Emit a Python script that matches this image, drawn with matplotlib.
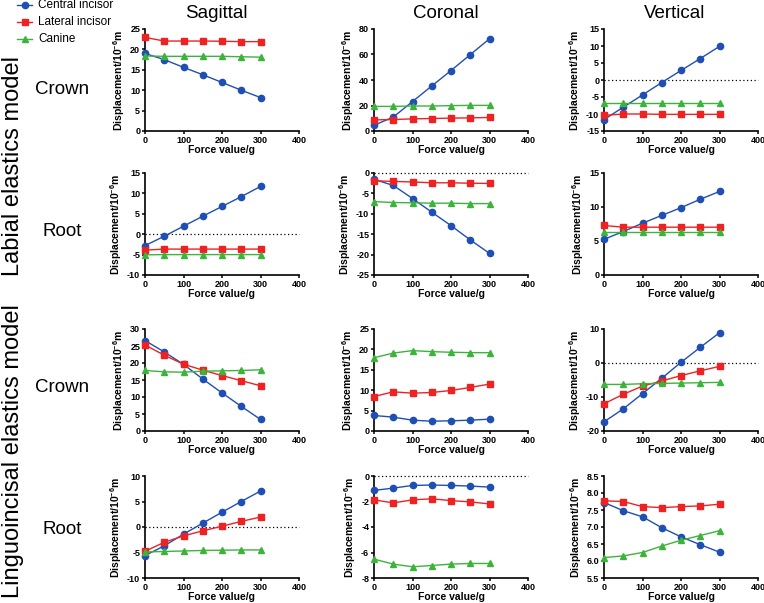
import matplotlib.pyplot as plt
import numpy as np

plt.rcParams.update({
    'font.family': ['Liberation Sans', 'DejaVu Sans'],
    'mathtext.fontset': 'custom',
    'mathtext.rm': 'Liberation Sans',
    'mathtext.bf': 'Liberation Sans:bold',
    'mathtext.default': 'bf',
    'axes.linewidth': 1.2,
})

force = [0, 50, 100, 150, 200, 250, 300]
series_names = ['Central incisor', 'Lateral incisor', 'Canine']
directions = ['Sagittal', 'Coronal', 'Vertical']
parts = ['Crown', 'Root', 'Crown', 'Root']
models = ['Labial elastics model', 'Linguoincisal elastics model']

# each panel: (central, lateral, canine), values in 10^-6 m
lab_crown_sag = ([19.0, 17.5, 15.6, 13.8, 11.9, 10.0, 8.2],
                 [22.95, 22.05, 22.05, 22.05, 22.0, 21.9, 21.9],
                 [18.4, 18.3, 18.3, 18.3, 18.3, 18.2, 18.1])
lab_crown_cor = ([4.5, 10.9, 23.1, 35.3, 47.4, 59.9, 72.3],
                 [8.7, 9.0, 9.5, 9.8, 10.1, 10.3, 10.6],
                 [19.3, 19.3, 19.6, 19.6, 19.9, 20.1, 20.1])
lab_crown_ver = ([-11.65, -8.0, -4.4, -0.74, 2.8, 6.3, 9.9],
                 [-10.4, -10.0, -10.0, -10.1, -10.1, -10.1, -10.1],
                 [-6.7, -6.7, -6.7, -6.7, -6.7, -6.7, -6.7])
lab_root_sag = ([-2.8, -0.5, 1.96, 4.4, 6.8, 9.2, 11.7],
                [-3.9, -3.65, -3.65, -3.65, -3.65, -3.65, -3.65],
                [-5.05, -5.0, -5.0, -5.0, -5.0, -5.0, -5.0])
lab_root_cor = ([-1.56, -3.04, -6.25, -9.6, -12.9, -16.4, -19.7],
                [-1.9, -2.06, -2.2, -2.4, -2.4, -2.5, -2.55],
                [-7.0, -7.24, -7.3, -7.4, -7.4, -7.5, -7.5])
lab_root_ver = ([5.25, 6.39, 7.62, 8.76, 9.9, 11.14, 12.28],
                [7.28, 7.03, 7.03, 7.03, 7.03, 7.03, 7.03],
                [6.34, 6.34, 6.34, 6.34, 6.34, 6.34, 6.34])
lin_crown_sag = ([26.6, 23.25, 19.6, 15.3, 11.2, 7.25, 3.4],
                 [25.3, 22.3, 19.65, 17.9, 16.3, 14.8, 13.3],
                 [17.8, 17.4, 17.3, 17.6, 17.7, 17.8, 18.0])
lin_crown_cor = ([3.8, 3.4, 2.65, 2.4, 2.5, 2.65, 2.9],
                 [8.45, 9.6, 9.27, 9.44, 9.93, 10.68, 11.5],
                 [17.96, 19.1, 19.7, 19.45, 19.3, 19.2, 19.2])
lin_crown_ver = ([-17.3, -13.5, -9.0, -4.5, 0.2, 4.6, 8.9],
                 [-12.0, -9.2, -6.8, -5.3, -3.7, -2.3, -1.0],
                 [-6.3, -6.3, -6.1, -6.0, -5.9, -5.8, -5.7])
lin_root_sag = ([-5.6, -3.7, -1.4, 0.75, 2.9, 5.0, 7.05],
                [-4.75, -3.0, -1.75, -0.75, 0.15, 1.1, 1.95],
                [-4.9, -4.8, -4.7, -4.6, -4.55, -4.5, -4.5])
lin_root_cor = ([-1.13, -0.95, -0.74, -0.71, -0.74, -0.79, -0.87],
                [-1.87, -2.11, -1.87, -1.79, -1.93, -2.03, -2.19],
                [-6.52, -6.91, -7.12, -7.02, -6.91, -6.86, -6.86])
lin_root_ver = ([7.72, 7.48, 7.30, 6.98, 6.71, 6.48, 6.26],
                [7.77, 7.75, 7.60, 7.57, 7.60, 7.62, 7.67],
                [6.10, 6.15, 6.25, 6.44, 6.61, 6.75, 6.89])

panels = [[lab_crown_sag, lab_crown_cor, lab_crown_ver],
          [lab_root_sag, lab_root_cor, lab_root_ver],
          [lin_crown_sag, lin_crown_cor, lin_crown_ver],
          [lin_root_sag, lin_root_cor, lin_root_ver]]

# y axis (min, max, step) per panel
yaxes = [[(0, 25, 5), (0, 80, 20), (-15, 15, 5)],
         [(-10, 15, 5), (-25, 0, 5), (0, 15, 5)],
         [(0, 30, 5), (0, 25, 5), (-20, 10, 10)],
         [(-10, 10, 5), (-8, 0, 2), (5.5, 8.5, 0.5)]]

colors = ['#1f4fb4', '#ee2222', '#3cb43c']
markers = ['o', 's', '^']
msizes = [4.5, 5, 4.5]

W, H = 764, 603
fig = plt.figure(figsize=(W / 100, H / 100), dpi=100)

col_left = [145, 374, 604]
row_top = [29, 173, 329, 476]
aw, ah = 154, 102

for r in range(4):
    for c in range(3):
        ax = fig.add_axes([col_left[c] / W, 1 - (row_top[r] + ah) / H, aw / W, ah / H])
        ymin, ymax, ystep = yaxes[r][c]
        if ymin < 0 < ymax or ymax == 0:
            ax.plot([0, 400], [0, 0], color='black', ls=(0, (1, 2)), lw=0.9, clip_on=False)
        for k in range(3):
            ax.plot(force, panels[r][c][k], color=colors[k], marker=markers[k],
                    ms=msizes[k], lw=1.0, clip_on=False, zorder=3)
        ax.set_xlim(0, 400)
        ax.set_ylim(ymin, ymax)
        ax.set_xticks([0, 100, 200, 300, 400])
        yt = np.arange(ymin, ymax + ystep / 2, ystep)
        ax.set_yticks(yt)
        if ystep < 1:
            ax.set_yticklabels(['%.1f' % v for v in yt])
        else:
            ax.set_yticklabels(['%d' % round(v) for v in yt])
        for s in ['top', 'right']:
            ax.spines[s].set_visible(False)
        ax.tick_params(direction='out', length=2.5, width=1.1, labelsize=6.5, pad=1)
        for lab in ax.get_xticklabels() + ax.get_yticklabels():
            lab.set_fontweight('bold')
        ax.set_xlabel('Force value/g', fontsize=7.5, fontweight='bold', labelpad=0)
        ax.set_ylabel('Displacement/10$^{-6}$m', fontsize=7.5, fontweight='bold', labelpad=2)

# column titles
for c, name in enumerate(directions):
    fig.text([216, 446, 675][c] / W, 1 - 14 / H, name, fontsize=13.5, ha='center', va='center')

# row labels
for r, name in enumerate(parts):
    fig.text(62 / W, 1 - [90, 232, 388, 530][r] / H, name, fontsize=13.5, ha='center', va='center')

fig.text(13 / W, 1 - 166 / H, models[0], fontsize=17, rotation=90, ha='center', va='center')
fig.text(13 / W, 1 - 451 / H, models[1], fontsize=17, rotation=90, ha='center', va='center')

# legend in the top-left corner
for k in range(3):
    y = 1 - [5, 22, 39][k] / H
    fig.lines.append(plt.Line2D([17 / W, 24.5 / W, 32 / W], [y, y, y], transform=fig.transFigure,
                                color=colors[k], marker=markers[k], ms=msizes[k],
                                markevery=[1], lw=1.0))
    fig.text(38 / W, y, series_names[k], fontsize=8.5, ha='left', va='center')

fig.savefig('out.png', dpi=100)
